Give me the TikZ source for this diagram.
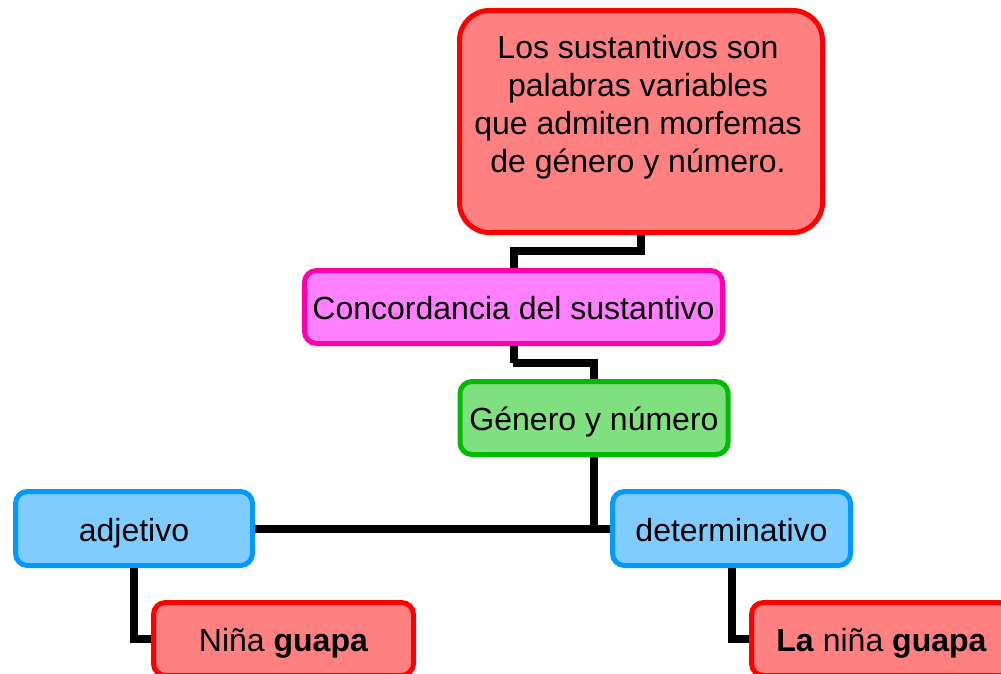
\documentclass[tikz,border=0pt]{standalone}
\usepackage{fontspec}
\setmainfont{Liberation Sans}
\begin{document}
\begin{tikzpicture}[x=1pt,y=-1pt,
  box/.style={draw, line width=5pt, rounded corners=12pt, inner sep=0pt,
    minimum height=73pt, text height=29pt, text depth=4pt,
    font=\fontsize{32}{38}\selectfont, text=black},
  redbox/.style={box, fill=red!50, draw=red},
  pinkbox/.style={box, fill=magentafill, draw=magentaline},
  greenbox/.style={box, fill=greenfill, draw=greenline},
  bluebox/.style={box, fill=bluefill, draw=blueline},
  conn/.style={line width=8pt, black}
]
\definecolor{magentafill}{HTML}{FF80FF}
\definecolor{magentaline}{HTML}{FF00AA}
\definecolor{greenfill}{HTML}{80E080}
\definecolor{greenline}{HTML}{00BB00}
\definecolor{bluefill}{HTML}{80CCFF}
\definecolor{blueline}{HTML}{0099FF}
\useasboundingbox (0,0) rectangle (1001,674);
\fill[white] (0,0) rectangle (1001,674);

% connector bends
\coordinate (c1) at (641,251);
\coordinate (c2) at (513,363);
\coordinate (c3) at (594,528.5);

% boxes
\node[redbox, rounded corners=30pt, minimum width=363pt, minimum height=222pt,
  text height=, text depth=] (top) at (641,121.5) {};
\node[font=\fontsize{32}{38}\selectfont, align=center, inner sep=0pt] (toptext) at (638,107)
  {Los sustantivos son\\palabras variables\\que admiten morfemas\\de género y número.};
\node[pinkbox, minimum width=418pt] (conc) at (513.5,307) {Concordancia del sustantivo};
\node[greenbox, minimum width=268pt] (gen) at (594,418) {Género y número};
\node[bluebox, minimum width=237pt, minimum height=74pt] (adj) at (134,528.5) {adjetivo};
\node[bluebox, minimum width=238pt, minimum height=74pt] (det) at (731.5,528.5) {determinativo};
\node[redbox, minimum width=260pt] (nina) at (283.5,639) {Niña \textbf{guapa}};
\node[redbox, minimum width=260pt] (la) at (881.5,639) {\textbf{La} niña \textbf{guapa}};

\draw[conn] (top.south -| c1) -- (c1) -| (conc.north);
\draw[conn] (conc.south) |- (c2) -| (gen.north);
\draw[conn] (gen.south) -- (c3);
\draw[conn] (adj.east) -- (det.west);
\draw[conn] (adj.south) |- (nina.west);
\draw[conn] (det.south) |- (la.west);
\end{tikzpicture}
\end{document}
